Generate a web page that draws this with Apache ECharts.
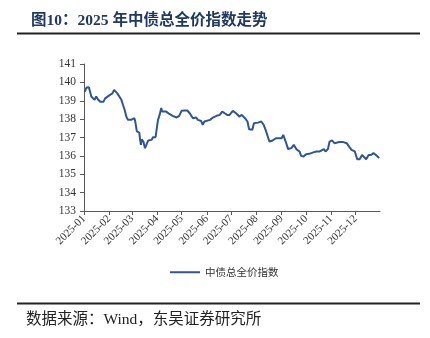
<!DOCTYPE html>
<html>
<head>
<meta charset="utf-8">
<script src="https://cdn.jsdelivr.net/npm/echarts@6/dist/echarts.min.js"></script>
<style>html,body{margin:0;padding:0;background:#fff;}#c{width:430px;height:338px;}</style>
</head>
<body>
<div id="c"></div>
<script>
var titleText = '图10：2025 年中债总全价指数走势';
var sourceText = '数据来源：Wind，东吴证券研究所';
var seriesName = '中债总全价指数';
var yTicks = [133, 134, 135, 136, 137, 138, 139, 140, 141];

var dates = [
'2025-01-02','2025-01-04','2025-01-07','2025-01-10','2025-01-12','2025-01-14','2025-01-16','2025-01-18','2025-01-21','2025-01-23','2025-01-25','2025-01-27','2025-01-29',
'2025-02-02','2025-02-05','2025-02-07','2025-02-09','2025-02-11','2025-02-13','2025-02-16','2025-02-18','2025-02-20','2025-02-22','2025-02-24','2025-02-26','2025-02-28',
'2025-03-02','2025-03-04','2025-03-05','2025-03-07','2025-03-10','2025-03-11','2025-03-12','2025-03-13','2025-03-15','2025-03-17','2025-03-19','2025-03-21','2025-03-23','2025-03-25','2025-03-27','2025-03-30',
'2025-04-01','2025-04-02','2025-04-04','2025-04-06','2025-04-07','2025-04-09','2025-04-12','2025-04-16','2025-04-20','2025-04-25','2025-04-28',
'2025-05-01','2025-05-05','2025-05-08','2025-05-09','2025-05-11','2025-05-13','2025-05-15','2025-05-17','2025-05-19','2025-05-21','2025-05-25','2025-05-27','2025-05-29','2025-05-31',
'2025-06-05','2025-06-09','2025-06-13','2025-06-17','2025-06-20','2025-06-23','2025-06-26','2025-06-29',
'2025-07-03','2025-07-07','2025-07-11','2025-07-14','2025-07-18','2025-07-21','2025-07-23','2025-07-25','2025-07-27','2025-07-29',
'2025-08-03','2025-08-07','2025-08-10','2025-08-13','2025-08-17','2025-08-21','2025-08-25','2025-08-27',
'2025-09-01','2025-09-03','2025-09-06','2025-09-09','2025-09-13','2025-09-16','2025-09-19','2025-09-23','2025-09-25','2025-09-28',
'2025-10-01','2025-10-05','2025-10-10','2025-10-14','2025-10-16','2025-10-18','2025-10-20','2025-10-23','2025-10-25','2025-10-28','2025-10-30',
'2025-11-02','2025-11-05','2025-11-07','2025-11-11','2025-11-16','2025-11-20','2025-11-23','2025-11-26','2025-11-30',
'2025-12-03','2025-12-06','2025-12-09','2025-12-11','2025-12-14','2025-12-17','2025-12-20','2025-12-23','2025-12-26','2025-12-30'
];
var values = [
139.50,139.72,139.73,139.23,139.13,139.05,139.23,139.08,138.95,139.05,138.95,139.13,139.23,
139.32,139.40,139.59,139.50,139.40,139.35,139.05,138.77,138.50,138.14,137.96,137.87,137.96,
138.00,138.05,137.87,137.33,137.27,136.87,136.60,136.90,136.78,136.42,136.50,136.84,136.78,136.87,137.02,137.02,
137.10,137.96,138.23,138.60,138.41,138.41,138.41,138.28,138.18,138.09,138.18,
138.45,138.47,138.47,138.57,138.32,138.18,138.05,138.14,138.09,137.96,137.90,137.69,137.87,137.90,
137.96,138.10,138.18,138.23,138.41,138.32,138.23,138.23,
138.45,138.32,138.14,138.23,138.05,137.87,137.45,137.55,137.42,137.78,
137.81,137.87,137.69,137.33,136.78,136.84,136.96,136.87,
136.96,137.14,136.78,136.37,136.42,136.60,136.37,136.24,136.00,135.97,
136.09,136.11,136.19,136.24,136.33,136.24,136.33,136.37,136.24,136.37,136.78,
136.84,136.69,136.64,136.75,136.75,136.69,136.50,136.33,136.24,
135.82,135.82,136.05,135.97,135.82,136.05,136.05,136.15,136.05,135.88
];

// calendar days for the category axis
var days = [];
(function(){
  var d = new Date(Date.UTC(2025,0,1));
  while (d.getUTCFullYear() === 2025) {
    var m = d.getUTCMonth()+1, dd = d.getUTCDate();
    days.push('2025-' + (m<10?'0':'') + m + '-' + (dd<10?'0':'') + dd);
    d.setUTCDate(dd+1);
  }
})();

var seriesData = dates.map(function(d, i){ return [d, values[i]]; });
var isMonthStart = function(index, value){ return value.slice(8) === '01'; };

var chart = echarts.init(document.getElementById('c'), null, {renderer:'canvas'});
var serif = '"Liberation Serif", "Noto Sans CJK SC", serif';
var axisColor = '#595959';
chart.setOption({
  animation: false,
  backgroundColor: '#fff',
  title: {
    text: titleText,
    left: 26, top: 8,
    textStyle: {fontFamily: serif, fontSize: 15.5, fontWeight: 'bold', color: '#1F3864'}
  },
  graphic: [
    {type:'rect', shape:{x:17, y:32.5, width:403, height:2}, style:{fill:'#222'}},
    {type:'rect', shape:{x:17, y:302.5, width:403, height:2}, style:{fill:'#222'}},
    {type:'text', left:26, top:312, style:{text: sourceText, font:'15.5px "Liberation Serif", "Noto Sans CJK SC", serif', fill:'#222'}}
  ],
  grid: {left: 84, right: 50, top: 64, bottom: 127, containLabel: false},
  legend: {
    left: 165, top: 262,
    itemWidth: 30, itemHeight: 10, itemGap: 6,
    textStyle: {fontFamily: '"Noto Sans CJK SC", sans-serif', fontSize: 10.5, color: '#333'},
    data: [{name: seriesName, icon: 'path://M0,4 L30,4 L30,6 L0,6 Z'}]
  },
  xAxis: {
    type: 'category',
    data: days,
    boundaryGap: false,
    axisLine: {lineStyle: {color: axisColor, width: 1}},
    axisTick: {show: true, interval: isMonthStart, length: 4, lineStyle: {color: axisColor}},
    axisLabel: {
      interval: isMonthStart, rotate: 45, margin: 6,
      fontFamily: serif, fontSize: 11, color: '#333',
      formatter: function(v){ return v.slice(0,7); }
    },
    splitLine: {show: false}
  },
  yAxis: {
    type: 'value',
    min: yTicks[0], max: yTicks[yTicks.length-1], interval: 1,
    axisLine: {show: true, lineStyle: {color: axisColor, width: 1}},
    axisTick: {show: true, length: 4, lineStyle: {color: axisColor}},
    axisLabel: {fontFamily: serif, fontSize: 11.5, color: '#333', margin: 8},
    splitLine: {show: false}
  },
  series: [{
    name: seriesName,
    type: 'line',
    data: seriesData,
    symbol: 'none',
    lineStyle: {color: '#2F5597', width: 2},
    itemStyle: {color: '#2F5597'}
  }]
});
</script>
</body>
</html>
